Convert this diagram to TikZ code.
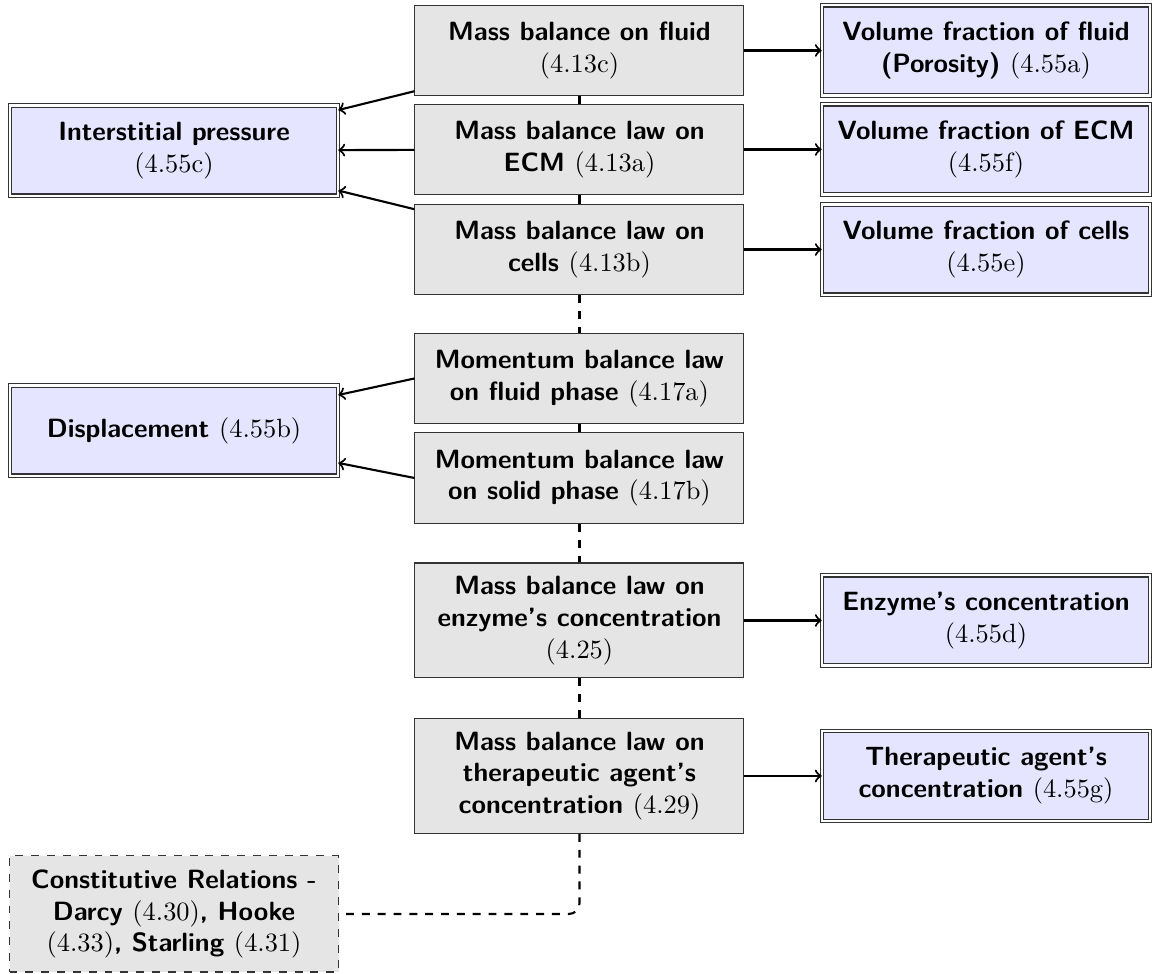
\documentclass[tikz,border=0pt]{standalone}

\newcommand\refno[1]{{\normalfont(#1)}}

\begin{document}
\begin{tikzpicture}[
    >=to,
    law/.style={draw=black!80, fill=gray!20, align=center, font=\sffamily\bfseries,
        minimum width=4.38cm, minimum height=1.21cm},
    unknown/.style={draw=black!80, double, double distance=0.8pt, fill=blue!10, align=center,
        font=\sffamily\bfseries, minimum width=4.36cm, minimum height=1.2cm},
    link/.style={thick},
    weak/.style={thick, dashed},
    feeds/.style={->, thick}
]
    \useasboundingbox (0,0) rectangle (15.365,-12.968);

    % Balance laws (middle column)
    \node[law] (fluid) at (7.715,-0.672) {Mass balance on fluid\\ \refno{4.13c}};
    \node[law] (ecm) at (7.715,-1.990) {Mass balance law on\\ ECM \refno{4.13a}};
    \node[law] (cells) at (7.715,-3.322) {Mass balance law on\\ cells \refno{4.13b}};
    \node[law] (momfluid) at (7.715,-5.039) {Momentum balance law\\ on fluid phase \refno{4.17a}};
    \node[law] (momsolid) at (7.715,-6.364) {Momentum balance law\\ on solid phase \refno{4.17b}};
    \node[law, minimum height=1.53cm] (enzyme) at (7.715,-8.261) {Mass balance law on\\ enzyme's concentration\\ \refno{4.25}};
    \node[law, minimum height=1.53cm] (agent) at (7.715,-10.331) {Mass balance law on\\ therapeutic agent's\\ concentration \refno{4.29}};

    % Unknowns (right column)
    \node[unknown] (porosity) at (13.128,-0.672) {Volume fraction of fluid\\ (Porosity) \refno{4.55a}};
    \node[unknown] (vfecm) at (13.128,-1.990) {Volume fraction of ECM\\ \refno{4.55f}};
    \node[unknown] (vfcells) at (13.128,-3.322) {Volume fraction of cells\\ \refno{4.55e}};
    \node[unknown] (cenzyme) at (13.128,-8.261) {Enzyme's concentration\\ \refno{4.55d}};
    \node[unknown] (cagent) at (13.128,-10.331) {Therapeutic agent's\\ concentration \refno{4.55g}};

    % Unknowns (left column)
    \node[unknown] (pressure) at (2.317,-2.004) {Interstitial pressure\\ \refno{4.55c}};
    \node[unknown] (displacement) at (2.317,-5.732) {Displacement \refno{4.55b}};
    \node[law, dashed, minimum height=1.545cm] (constitutive) at (2.317,-12.169) {Constitutive Relations -\\ Darcy \refno{4.30}, Hooke\\ \refno{4.33}, Starling \refno{4.31}};

    % Coupling of the laws
    \draw[link] (fluid) -- (ecm);
    \draw[link] (ecm) -- (cells);
    \draw[weak] (cells) -- (momfluid);
    \draw[link] (momfluid) -- (momsolid);
    \draw[weak] (momsolid) -- (enzyme);
    \draw[weak] (enzyme) -- (agent);
    \draw[weak, rounded corners] (agent) |- (constitutive);

    % Which law gives which unknown
    \draw[feeds] (fluid) -- (porosity);
    \draw[feeds] (ecm) -- (vfecm);
    \draw[feeds] (cells) -- (vfcells);
    \draw[feeds] (enzyme) -- (cenzyme);
    \draw[feeds] (agent) -- (cagent);
    \draw[feeds] (fluid) -- (pressure);
    \draw[feeds] (ecm) -- (pressure);
    \draw[feeds] (cells) -- (pressure);
    \draw[feeds] (momfluid.west) -- (displacement);
    \draw[feeds] (momsolid.west) -- (displacement);
\end{tikzpicture}
\end{document}
